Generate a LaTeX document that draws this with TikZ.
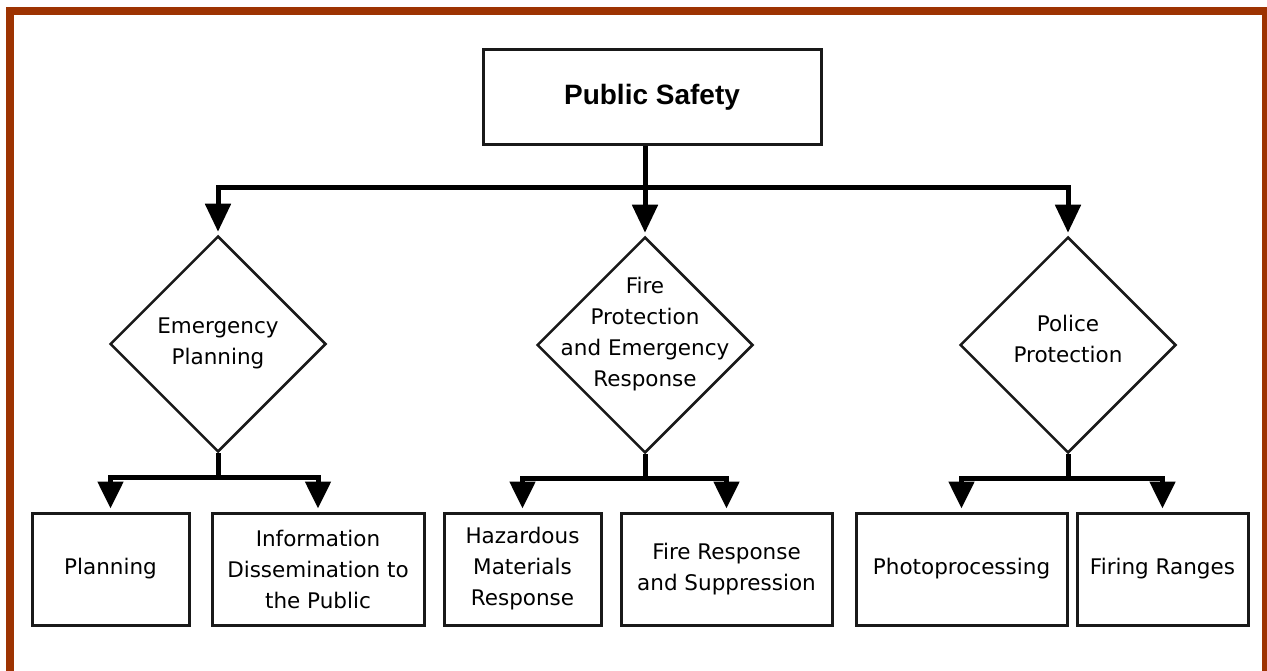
\documentclass[tikz,border=0pt]{standalone}
\usepackage{fontspec}
\setmainfont{DejaVu Sans}
\newfontfamily\titlefont{Liberation Sans}
\usetikzlibrary{shapes.geometric,arrows.meta}

\definecolor{framebrown}{RGB}{157,51,2}
\definecolor{boxline}{RGB}{25,25,25}

\tikzset{
  box/.style={draw=boxline, line width=3pt, rectangle, inner sep=0pt,
    minimum height=112pt, align=center, font=\fontsize{21.5}{31}\selectfont},
  dia/.style={draw=boxline, line width=2.5pt, diamond, inner sep=0pt,
    minimum width=216pt, minimum height=216pt},
  txt/.style={align=center, inner sep=0pt, font=\fontsize{21.5}{31}\selectfont},
  conn/.style={line width=5pt, black},
  arr/.style={conn, -{Triangle[length=28pt,width=25pt]}, shorten >=3pt},
  arrlow/.style={conn, -{Triangle[length=27pt,width=25pt]}, shorten >=3pt}
}

\begin{document}
\begin{tikzpicture}[x=1pt,y=-1pt]
\useasboundingbox (0,0) rectangle (1267,671);
\clip (0,0) rectangle (1267,671);

% frame
\draw[framebrown, line width=8pt] (10,690) -- (10,11) -- (1266,11) -- (1266,690);

% top
\node[box, minimum width=338pt, minimum height=95pt] (ps) at (652,97.5)
  {\raisebox{-3pt}{\titlefont\bfseries\fontsize{28}{32}\selectfont Public Safety}};

% diamonds
\node[dia] (emer) at (218,344) {};
\node[txt] (emer-t) at (218,343) {Emergency\\Planning};

\node[dia] (fire) at (645,345) {};
\node[txt] (fire-t) at (645,334.5) {Fire\\Protection\\and Emergency\\Response};

\node[dia] (police) at (1068,345) {};
\node[txt] (police-t) at (1068,338.5) {Police\\Protection};

% bottom row
\node[box, minimum width=157pt] (plan) at (110.5,569) {Planning};
\node[box, minimum width=212pt] (info) at (318,569) {Information\\Dissemination to\\the Public};
\node[box, minimum width=157pt] (haz) at (522.5,569) {Hazardous\\Materials\\Response};
\node[box, minimum width=211pt] (fresp) at (726.5,569) {Fire Response\\and Suppression};
\node[box, minimum width=211pt] (photo) at (961.5,569) {Photoprocessing};
\node[box, minimum width=171pt] (range) at (1162.5,569) {Firing Ranges};

% connectors
\coordinate (hub) at (645,188);
\draw[conn] (ps.south -| hub) -- (hub);
\draw[arr] (hub) -| (emer.north);
\draw[arr] (hub) -- (fire.north);
\draw[arr] (hub) -| (police.north);

\draw[conn] (emer.south) -- ++(0,24) coordinate (j1);
\draw[arrlow] (j1) -| (plan.north);
\draw[arrlow] (j1) -| (info.north);

\draw[conn] (fire.south) -- ++(0,24) coordinate (j2);
\draw[arrlow] (j2) -| (haz.north);
\draw[arrlow] (j2) -| (fresp.north);

\draw[conn] (police.south) -- ++(0,24) coordinate (j3);
\draw[arrlow] (j3) -| (photo.north);
\draw[arrlow] (j3) -| (range.north);

\end{tikzpicture}
\end{document}
